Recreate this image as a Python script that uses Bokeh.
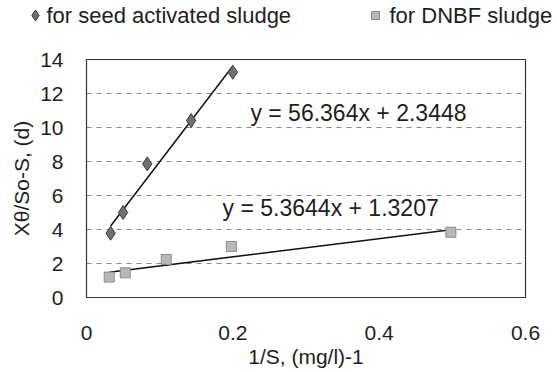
from bokeh.plotting import figure
from bokeh.layouts import column
from bokeh.models import Range1d, FixedTicker, Label
from bokeh.core.properties import value
from bokeh.embed import file_html
from bokeh.resources import INLINE

# data
seed_x = [0.033, 0.05, 0.083, 0.143, 0.2]
seed_y = [3.78, 5.0, 7.86, 10.41, 13.25]
dnbf_x = [0.031, 0.053, 0.109, 0.198, 0.498]
dnbf_y = [1.2, 1.45, 2.24, 3.0, 3.84]
seed_fit = (56.364, 2.3448)
dnbf_fit = (5.3644, 1.3207)
x_ticks = [0, 0.2, 0.4, 0.6]
y_ticks = [0, 2, 4, 6, 8, 10, 12, 14]
series_names = ["for seed activated sludge", "for DNBF sludge"]

FONT = "Liberation Sans"
TXT = "#1e1e1e"
LEG_H = 36
SEED_FILL, SEED_LINE = "#707070", "#3a3a3a"
DNBF_FILL, DNBF_LINE = "#b8b8b8", "#8a8a8a"

# ---- legend strip on top (pixel-space ranges) ----
lf = figure(width=557, height=LEG_H, output_backend="svg", toolbar_location=None,
            x_range=Range1d(0, 557), y_range=Range1d(LEG_H, 0),
            x_axis_location=None, y_axis_location=None,
            min_border=0, min_border_left=0, min_border_right=0,
            min_border_top=0, min_border_bottom=0)
lf.frame_align = False
lf.outline_line_color = None
lf.grid.visible = False
lf.border_fill_color = "white"
lf.background_fill_color = "white"
leg_y = 15
lf.scatter([35], [leg_y], marker="diamond", size=11, fill_color=SEED_FILL,
           line_color=SEED_LINE, line_width=1)
lf.scatter([375], [leg_y], marker="square", size=8, fill_color=DNBF_FILL,
           line_color=DNBF_LINE, line_width=1)
lf.text(x=[46, 389], y=[leg_y, leg_y], text=series_names, text_font=value(FONT),
        text_font_size=value("22px"), text_color=TXT, text_baseline="middle",
        text_align="left")

# ---- main chart ----
p = figure(width=557, height=372 - LEG_H, output_backend="svg", toolbar_location=None,
           x_range=Range1d(0, 0.6), y_range=Range1d(0, 14),
           min_border_left=86, min_border_right=32, min_border_top=59 - LEG_H,
           min_border_bottom=75)
p.frame_align = False
p.background_fill_color = "white"
p.border_fill_color = "white"
p.outline_line_color = "#333333"
p.outline_line_width = 1.2

p.xgrid.visible = False
p.ygrid.ticker = FixedTicker(ticks=[2, 4, 6, 8, 10, 12])
p.ygrid.grid_line_color = "#888888"
p.ygrid.grid_line_dash = "5 5"
p.ygrid.grid_line_width = 1

for ax in (p.xaxis[0], p.yaxis[0]):
    ax.axis_line_color = None
    ax.major_tick_line_color = None
    ax.minor_tick_line_color = None
    ax.major_label_text_font = FONT
    ax.major_label_text_font_size = "21px"
    ax.major_label_text_color = TXT
    ax.axis_label_text_font = FONT
    ax.axis_label_text_font_size = "21px"
    ax.axis_label_text_font_style = "normal"
    ax.axis_label_text_color = TXT

p.xaxis.ticker = FixedTicker(ticks=x_ticks)
p.xaxis.major_label_overrides = {0: "0", 0.2: "0.2", 0.4: "0.4", 0.6: "0.6"}
p.xaxis.major_label_standoff = 22
p.xaxis.axis_label = "1/S, (mg/l)-1"
p.xaxis.axis_label_standoff = 2
p.yaxis.ticker = FixedTicker(ticks=y_ticks)
p.yaxis.major_label_standoff = 17
p.yaxis.axis_label = "Xθ/So-S, (d)"
p.yaxis.axis_label_standoff = 4

# trendlines
sx = [min(seed_x), max(seed_x)]
p.line(sx, [seed_fit[0] * v + seed_fit[1] for v in sx], line_color="#111111", line_width=1.5)
dx = [min(dnbf_x), max(dnbf_x)]
p.line(dx, [dnbf_fit[0] * v + dnbf_fit[1] for v in dx], line_color="#111111", line_width=1.5)

p.scatter(seed_x, seed_y, marker="diamond", size=14, fill_color=SEED_FILL,
          line_color=SEED_LINE, line_width=1)
p.scatter(dnbf_x, dnbf_y, marker="square", size=10, fill_color=DNBF_FILL,
          line_color=DNBF_LINE, line_width=1)

p.add_layout(Label(x=0.224, y=10.85, text="y = 56.364x + 2.3448", text_font=FONT,
                   text_font_size="23px", text_color=TXT, text_baseline="middle"))
p.add_layout(Label(x=0.186, y=5.25, text="y = 5.3644x + 1.3207", text_font=FONT,
                   text_font_size="23px", text_color=TXT, text_baseline="middle"))

layout = column(lf, p, spacing=0)
open("out.html", "w").write(file_html(layout, INLINE))
